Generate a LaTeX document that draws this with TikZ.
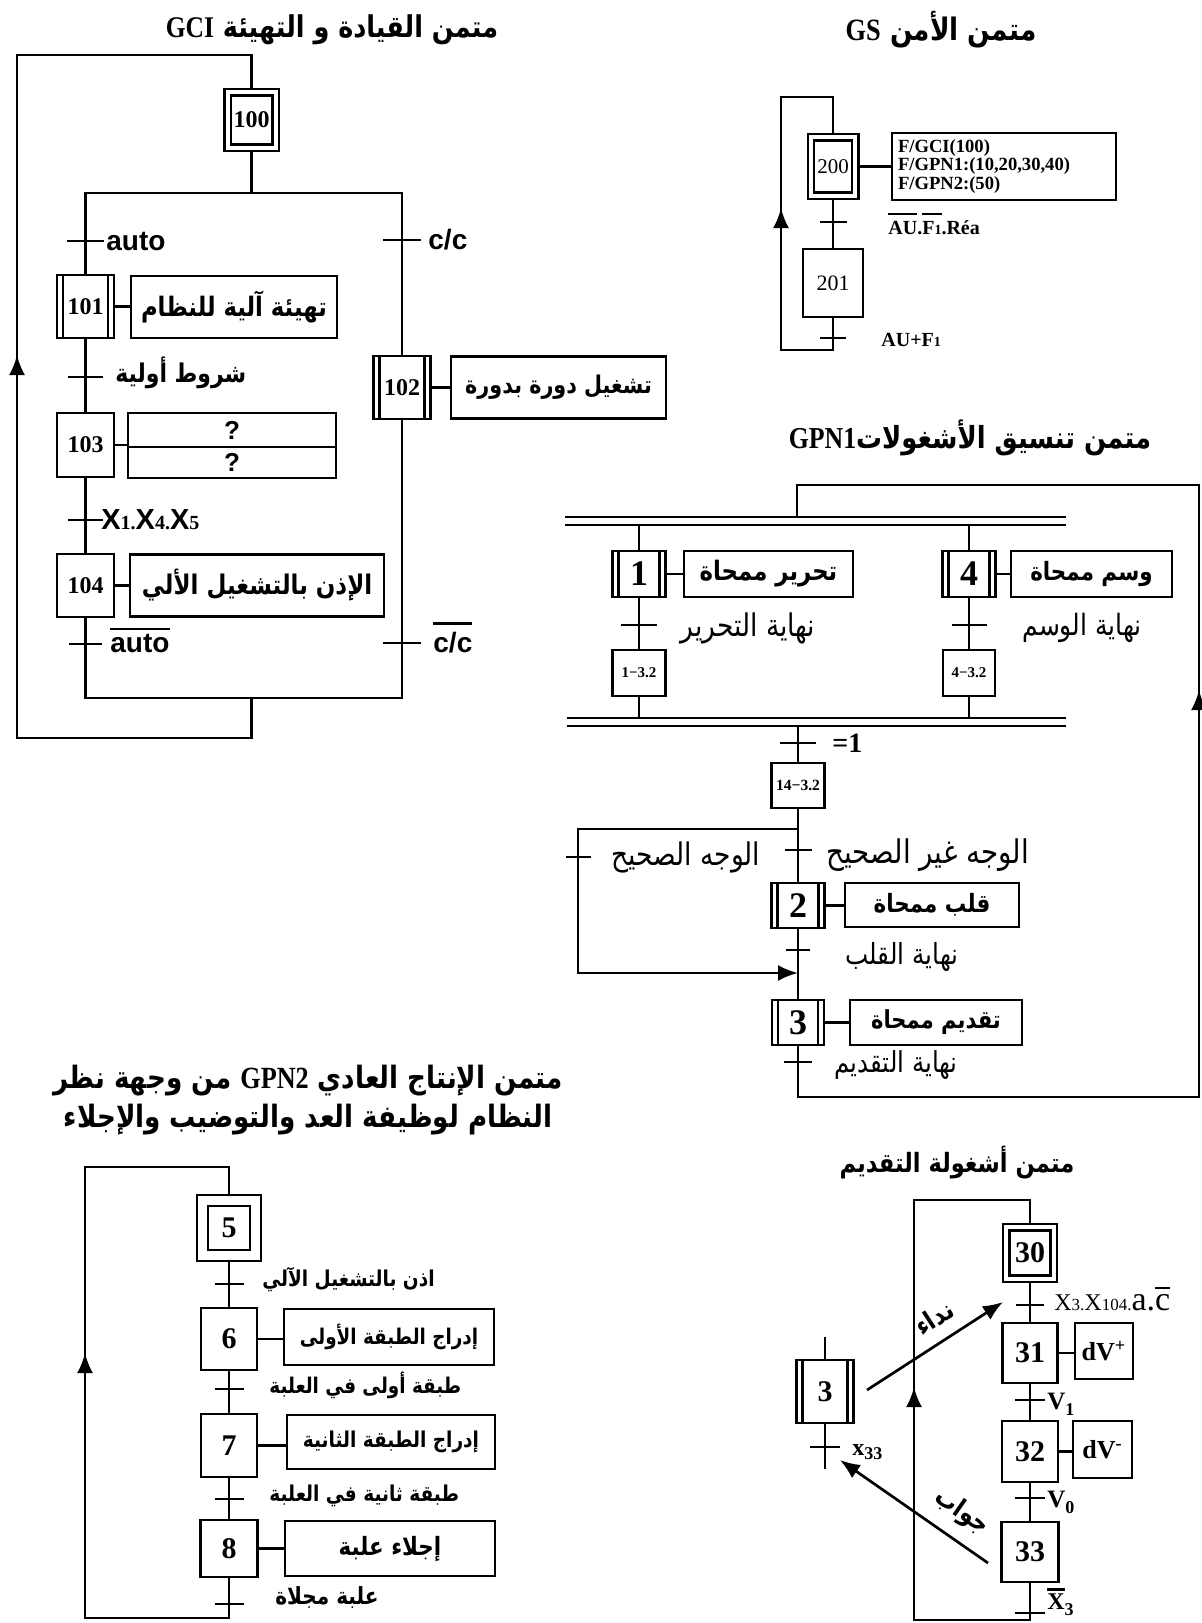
\documentclass[tikz,border=0pt]{standalone}
\usepackage{graphicx}
\usepackage{fontspec}
\setmainfont{Liberation Serif}
\setsansfont{Liberation Sans}
\newfontfamily\arabicfont[Script=Arabic]{DejaVu Sans}
\TeXXeTstate=1
\usetikzlibrary{arrows.meta}
\newcommand\arb[1]{\scalebox{0.85}[1]{\arabicfont\beginR #1\endR}}
\newcommand\ovl[2][1.5pt]{\leavevmode\vbox{\hrule height 1.1pt\kern#1\hbox{#2}}}
\newcommand\fsz[1]{\fontsize{#1}{#1}\selectfont}

\begin{document}
\begin{tikzpicture}[x=0.5pt,y=-0.5pt,
      lien/.style  ={line width=1.35pt},
      fl/.style    ={lien,-{Latex[length=10pt,width=8pt]}},
      etape/.style ={draw,line width=1.35pt,inner sep=0pt,minimum width=28.5pt,
                     minimum height=31.5pt,font=\bfseries\fsz{12}},
      etapei/.style={etape,line width=1.2pt,double,double distance=2pt,outer sep=2.2pt},
      tache/.style ={etape,path picture={
                     \draw[line width=1.2pt]
                       ([xshift=3pt]path picture bounding box.north west)--([xshift=3pt]path picture bounding box.south west)
                       ([xshift=-3pt]path picture bounding box.north east)--([xshift=-3pt]path picture bounding box.south east);}},
      act/.style   ={draw,line width=1.35pt,inner sep=0pt,minimum height=31pt,
                     font=\arabicfont\bfseries\fsz{13}},
      tr/.style    ={fill,inner sep=0pt,outer sep=0pt,minimum height=1.4pt},
      cnd/.style   ={anchor=west,inner sep=0pt},
      titre/.style ={inner sep=0pt,font=\arabicfont\bfseries\fsz{15}},
      barre/.style ={inner sep=0pt,outer sep=0pt,minimum height=4pt,
                     append after command={(\tikzlastnode.north west) edge[lien] (\tikzlastnode.north east)
                                           (\tikzlastnode.south west) edge[lien] (\tikzlastnode.south east)}}]
      \fill[white] (0,0) rectangle (1202,1623);
      \useasboundingbox (0,0) rectangle (1202,1623);

      % GCI
      \node[titre] (tGCI) at (332,30) {\arb{متمن القيادة و التهيئة {\rmfamily GCI}}};
      \node[etapei,minimum width=24pt,minimum height=27.6pt] (e100) at (251.5,120) {100};
      \node[tache] (e101) at (85.5,306.5) {101};
      \node[tache] (e102) at (402,387.5) {102};
      \node[etape,minimum height=32pt] (e103) at (85.5,445) {103};
      \node[etape] (e104) at (85.5,585.5) {104};
      \node[act,minimum width=103pt,font=\arabicfont\bfseries\fsz{13.4}] (a101) at (234,307) {\arb{تهيئة آلية للنظام}};
      \node[act,minimum width=107.5pt,font=\arabicfont\bfseries\fsz{12.2}] (a102) at (558.5,387.5) {\arb{تشغيل دورة بدورة}};
      \node[act,minimum width=104pt,minimum height=17pt,font=\sffamily\bfseries\fsz{13}] (a103a) at (232,430) {?};
      \node[act,minimum width=104pt,minimum height=15.5pt,font=\sffamily\bfseries\fsz{13}] (a103b) at (232,462.5) {?};
      \node[act,minimum width=127pt,font=\arabicfont\bfseries\fsz{13.5}] (a104) at (257,585.5) {\arb{الإذن بالتشغيل الألي}};
      \foreach \n/\x/\y/\w in {tauto/85.5/241/18.5,tcc/402/240/19,t101/85.5/377/17.5,
                               t103/85.5/520/17.5,t104/85.5/644/16.5,t102/402/643/19}
        \node[tr,minimum width=\w pt] (\n) at (\x,\y) {};
      \node[cnd,font=\sffamily\bfseries\fsz{14}] (lauto) at (106,241) {auto};
      \node[cnd,font=\sffamily\bfseries\fsz{14}] (lcc) at (428,240) {c/c};
      \node[cnd,font=\arabicfont\bfseries\fsz{12.9}] (l101) at (115,373) {\arb{شروط أولية}};
      \node[cnd,font=\bfseries\fsz{10}] (l103) at (101,520)
        {{\sffamily\fsz{14.5}X}1.{\sffamily\fsz{14.5}X}4.{\sffamily\fsz{14.5}X}5};
      \node[cnd,font=\sffamily\bfseries\fsz{14}] (lnauto) at (110,640) {\ovl[2pt]{auto}};
      \node[cnd,font=\sffamily\bfseries\fsz{14}] (lncc) at (433,638) {\ovl[4pt]{c/c}};
      \coordinate (dv)   at (251.5,193);
      \coordinate (dvG)  at (85.5,193);
      \coordinate (dvD)  at (402,193);
      \coordinate (cvG)  at (85.5,698);
      \coordinate (cvD)  at (402,698);
      \coordinate (cv)   at (251.5,698);
      \coordinate (bcl)  at (251.5,738);
      \coordinate (bclg) at (17,738);
      \coordinate (hclg) at (17,55);
      \coordinate (hcl)  at (251.5,55);
      \coordinate (fcl)  at (17,355);
      \draw[lien] (e100) -- (dv);
      \draw[lien] (e101) -- (dvG) -- (dvD) -- (e102);
      \draw[lien] (e101) -- (e103) -- (e104) -- (cvG) -- (cvD) -- (e102);
      \draw[lien] (cv) -- (bcl) -- (bclg) -- (hclg) -- (hcl) -- (e100);
      \draw[fl] (bclg) -- (fcl);

      % GS
      \node[titre,font=\arabicfont\bfseries\fsz{15.5}] (tGS) at (941,30) {\arb{متمن الأمن {\rmfamily GS}}};
      \node[etapei,minimum width=22.1pt,minimum height=29.1pt,font=\fsz{10.5}] (e200) at (833,166.5) {200};
      \node[etape,minimum width=30pt,minimum height=34pt,font=\fsz{11}] (e201) at (833,283) {201};
      \node[act,minimum width=112pt,minimum height=33.5pt,inner sep=3pt,text width=106pt,
            align=left,font=\bfseries\fsz{9.3}] (a200) at (1004,166.5)
        {F/GCI(100)\\F/GPN1:(10,20,30,40)\\F/GPN2:(50)};
      \foreach \n/\x/\y/\w in {t200/833/222/13.5,t201/833/338/13}
        \node[tr,minimum width=\w pt] (\n) at (\x,\y) {};
      \node[cnd,font=\bfseries\fsz{10}] (l200) at (888,224) {\ovl[3pt]{AU}.\ovl[3pt]{F{\fsz{7}1}}.Réa};
      \node[cnd,font=\bfseries\fsz{10}] (l201) at (881,340) {AU+F{\fsz{7}1}};
      \coordinate (hS)  at (833,97);
      \coordinate (hSg) at (781,97);
      \coordinate (bSg) at (781,350);
      \coordinate (bS)  at (833,350);
      \coordinate (fS)  at (781,208);
      \draw[lien] (e200) -- (e201) -- (bS) -- (bSg) -- (hSg) -- (hS) -- (e200);
      \draw[fl] (bSg) -- (fS);

      % GPN1
      \node[titre,font=\arabicfont\bfseries\fsz{15.2}] (tGPN1) at (970,438) {\arb{متمن تنسيق الأشغولات{\rmfamily GPN1}}};
      \node[barre,minimum width=250.5pt] (div1) at (815.5,521) {};
      \node[barre,minimum width=249.5pt] (cnv1) at (816.5,722) {};
      \node[tache,minimum width=26.5pt,minimum height=23pt,font=\bfseries\fsz{18}] (e1) at (639,574) {1};
      \node[tache,minimum width=26.5pt,minimum height=23pt,font=\bfseries\fsz{18}] (e4) at (969,574) {4};
      \node[etape,minimum width=26.5pt,minimum height=23pt,font=\bfseries\fsz{7.5}] (e13) at (639,673) {1−3.2};
      \node[etape,minimum width=26pt,minimum height=23pt,font=\bfseries\fsz{7.5}] (e43) at (969,673) {4−3.2};
      \node[etape,minimum width=26.5pt,minimum height=22.5pt,font=\bfseries\fsz{7.8}] (e14) at (798,785.5) {14−3.2};
      \node[tache,minimum width=26.5pt,minimum height=22.5pt,font=\bfseries\fsz{18}] (e2) at (798,905.5) {2};
      \node[tache,minimum width=26pt,minimum height=22.5pt,font=\bfseries\fsz{18}] (e3) at (798,1022.5) {3};
      \node[act,minimum width=84.5pt,minimum height=23pt,font=\arabicfont\bfseries\fsz{13.4}] (a1) at (768.5,574) {\arb{تحرير ممحاة}};
      \node[act,minimum width=80.5pt,minimum height=23pt,font=\arabicfont\bfseries\fsz{12.6}] (a4) at (1091.5,574) {\arb{وسم ممحاة}};
      \node[act,minimum width=87pt,minimum height=22pt,font=\arabicfont\bfseries\fsz{12.6}] (a2) at (932,905) {\arb{قلب ممحاة}};
      \node[act,minimum width=86pt,minimum height=22.5pt,font=\arabicfont\bfseries\fsz{12.4}] (a3) at (936,1022.5) {\arb{تقديم ممحاة}};
      \foreach \n/\x/\y/\w in {t1/639/625/18,t4/969/625/17.5,teg/798/743/18,tfx/798/850/13.5,
                               tju/578/857/12.5,t2/798/950/12,t3/798/1062/14}
        \node[tr,minimum width=\w pt] (\n) at (\x,\y) {};
      \node[cnd,font=\arabicfont\fsz{15.6}] (l1)  at (680,628)  {\arb{نهاية التحرير}};
      \node[cnd,font=\arabicfont\fsz{14.7}] (l4)  at (1022,628) {\arb{نهاية الوسم}};
      \node[cnd,font=\bfseries\fsz{14}]     (leg) at (832,743)  {=1};
      \node[cnd,font=\arabicfont\fsz{16.3}] (lfx) at (826,855)  {\arb{الوجه غير الصحيح}};
      \node[cnd,font=\arabicfont\fsz{15.6}] (lju) at (611,857)  {\arb{الوجه الصحيح}};
      \node[cnd,font=\arabicfont\fsz{14.5}] (l2)  at (845,957)  {\arb{نهاية القلب}};
      \node[cnd,font=\arabicfont\fsz{14.4}] (l3)  at (834,1065) {\arb{نهاية التقديم}};
      \coordinate (ou1)  at (798,829);
      \coordinate (ou1g) at (578,829);
      \coordinate (ou1b) at (578,973);
      \coordinate (ou1f) at (798,973);
      \coordinate (bP)   at (798,1097);
      \coordinate (bPd)  at (1199,1097);
      \coordinate (hPd)  at (1199,485);
      \coordinate (hP)   at (797,485);
      \coordinate (fP)   at (1199,690);
      \draw[lien] (div1.south -| e1) -- (e1) -- (e13) -- (e13 |- cnv1.north);
      \draw[lien] (div1.south -| e4) -- (e4) -- (e43) -- (e43 |- cnv1.north);
      \draw[lien] (cnv1.south -| e14) -- (e14) -- (e2) -- (e3) -- (bP) -- (bPd) -- (hPd) -- (hP) -- (hP |- div1.north);
      \draw[fl] (ou1) -- (ou1g) -- (ou1b) -- (ou1f);
      \draw[fl] (bPd) -- (fP);

      % GPN2
      \node[titre,align=center,font=\arabicfont\bfseries\fontsize{15.4}{19.5}\selectfont] (tGPN2) at (308,1100)
        {\arb{متمن الإنتاج العادي {\rmfamily GPN2} من وجهة نظر}\\\arb{النظام لوظيفة العد والتوضيب والإجلاء}};
      \node[etapei,double distance=4.3pt,outer sep=3.35pt,minimum width=26.3pt,minimum height=27.3pt,
            font=\bfseries\fsz{15}] (e5) at (229,1228) {5};
      \node[etape,minimum width=28pt,minimum height=31pt,font=\bfseries\fsz{15}] (e6) at (229,1339) {6};
      \node[etape,minimum width=28pt,minimum height=31.5pt,font=\bfseries\fsz{15}] (e7) at (229,1445.5) {7};
      \node[etape,minimum width=28.5pt,minimum height=28.5pt,font=\bfseries\fsz{15}] (e8) at (229,1548.5) {8};
      \node[act,minimum width=105pt,minimum height=28pt,font=\arabicfont\bfseries\fsz{10.8}] (a6) at (389,1337) {\arb{إدراج الطبقة الأولى}};
      \node[act,minimum width=104pt,minimum height=27pt,font=\arabicfont\bfseries\fsz{10.9}] (a7) at (391,1442) {\arb{إدراج الطبقة الثانية}};
      \node[act,minimum width=105pt,minimum height=27.5pt,font=\arabicfont\bfseries\fsz{12.6}] (a8) at (390,1548.5) {\arb{إجلاء علبة}};
      \foreach \n/\x/\y/\w in {t5/229/1284/14.5,t6/229/1389/14.5,t7/229/1499/14.5,t8/229/1604/14.5}
        \node[tr,minimum width=\w pt] (\n) at (\x,\y) {};
      \node[cnd,font=\arabicfont\bfseries\fsz{10.9}] (l5) at (262,1280) {\arb{اذن بالتشغيل الآلي}};
      \node[cnd,font=\arabicfont\bfseries\fsz{10.8}] (l6) at (269,1385) {\arb{طبقة أولى في العلبة}};
      \node[cnd,font=\arabicfont\bfseries\fsz{10.9}] (l7) at (269,1496) {\arb{طبقة ثانية في العلبة}};
      \node[cnd,font=\arabicfont\bfseries\fsz{11.8}] (l8) at (275,1598) {\arb{علبة مجلاة}};
      \coordinate (hN)  at (229,1167);
      \coordinate (hNg) at (85,1167);
      \coordinate (bNg) at (85,1618);
      \coordinate (bN)  at (229,1618);
      \coordinate (fN)  at (85,1353);
      \draw[lien] (e5) -- (e6) -- (e7) -- (e8) -- (bN) -- (bNg) -- (hNg) -- (hN) -- (e5);
      \draw[fl] (bNg) -- (fN);

      % tache d'avance
      \node[titre,font=\arabicfont\bfseries\fsz{13.3}] (tTache) at (957,1163) {\arb{متمن أشغولة التقديم}};
      \node[etapei,minimum width=23.6pt,minimum height=25.6pt,font=\bfseries\fsz{15}] (e30) at (1030,1253) {30};
      \node[etape,minimum width=27.5pt,minimum height=30pt,font=\bfseries\fsz{15}] (e31) at (1030,1353) {31};
      \node[etape,minimum width=28pt,minimum height=30.5pt,font=\bfseries\fsz{15}] (e32) at (1030,1451.5) {32};
      \node[etape,minimum width=28.5pt,minimum height=30pt,font=\bfseries\fsz{15}] (e33) at (1030,1552) {33};
      \node[act,minimum width=29pt,minimum height=28pt,font=\rmfamily\bfseries\fsz{13}] (a31) at (1104,1351) {dV\textsuperscript{+}};
      \node[act,minimum width=29.5pt,minimum height=28.5pt,font=\rmfamily\bfseries\fsz{13}] (a32) at (1102.5,1449.5) {dV\textsuperscript{-}};
      \node[tache,minimum width=28.5pt,minimum height=31.5pt,font=\bfseries\fsz{15}] (e3t) at (825,1391.5) {3};
      \foreach \n/\x/\y/\w in {t30/1030/1305/14,t31/1030/1400/15,t32/1030/1498/15,
                               t33/1030/1613/15,t3t/825/1447/15}
        \node[tr,minimum width=\w pt] (\n) at (\x,\y) {};
      \node[cnd,font=\fsz{12}] (l30) at (1054,1299) {X{\fsz{8.5}3.}X{\fsz{8.5}104.}{\fsz{17}a.\ovl[2.5pt]{c}}};
      \node[cnd,font=\bfseries\fsz{12.5}] (l31) at (1047,1404) {V\raisebox{-3pt}{\fsz{9}1}};
      \node[cnd,font=\bfseries\fsz{12.5}] (l32) at (1047,1502) {V\raisebox{-3pt}{\fsz{9}0}};
      \node[cnd,font=\bfseries\fsz{12}] (l33) at (1047,1602) {\ovl{X}\raisebox{-3pt}{\fsz{9}3}};
      \node[cnd,font=\bfseries\fsz{12}] (l3t) at (852,1452) {x\raisebox{-2pt}{\fsz{9}33}};
      \coordinate (hT)  at (1030,1200);
      \coordinate (hTg) at (914,1200);
      \coordinate (bTg) at (914,1620);
      \coordinate (bT)  at (1030,1620);
      \coordinate (fT)  at (914,1387);
      \coordinate (h3t) at (825,1337);
      \coordinate (b3t) at (825,1469);
      \coordinate (nd0) at (867,1390);
      \coordinate (nd1) at (1003,1302);
      \coordinate (jw0) at (988,1563);
      \coordinate (jw1) at (840,1460);
      \draw[lien] (e30) -- (e31) -- (e32) -- (e33) -- (bT) -- (bTg) -- (hTg) -- (hT) -- (e30);
      \draw[fl] (bTg) -- (fT);
      \draw[lien] (h3t) -- (e3t) -- (b3t);
      \draw[fl] (nd0) -- (nd1)
        node[pos=0.59,above=3pt,sloped,font=\arabicfont\bfseries\fsz{13}] (lnida) {\arb{نداء}};
      \draw[fl] (jw0) -- (jw1)
        node[pos=0.28,above=3pt,sloped,font=\arabicfont\bfseries\fsz{13}] (ljawab) {\arb{جواب}};

      % liaisons etape - action
      \foreach \e/\a in {e101/a101,e102/a102,e103/a103a,e104/a104,e200/a200,e1/a1,e4/a4,
                         e2/a2,e3/a3,e6/a6,e7/a7,e8/a8,e31/a31,e32/a32}
        \draw[lien] (\e) -- (\e -| \a.west);
    \end{tikzpicture}
\end{document}
